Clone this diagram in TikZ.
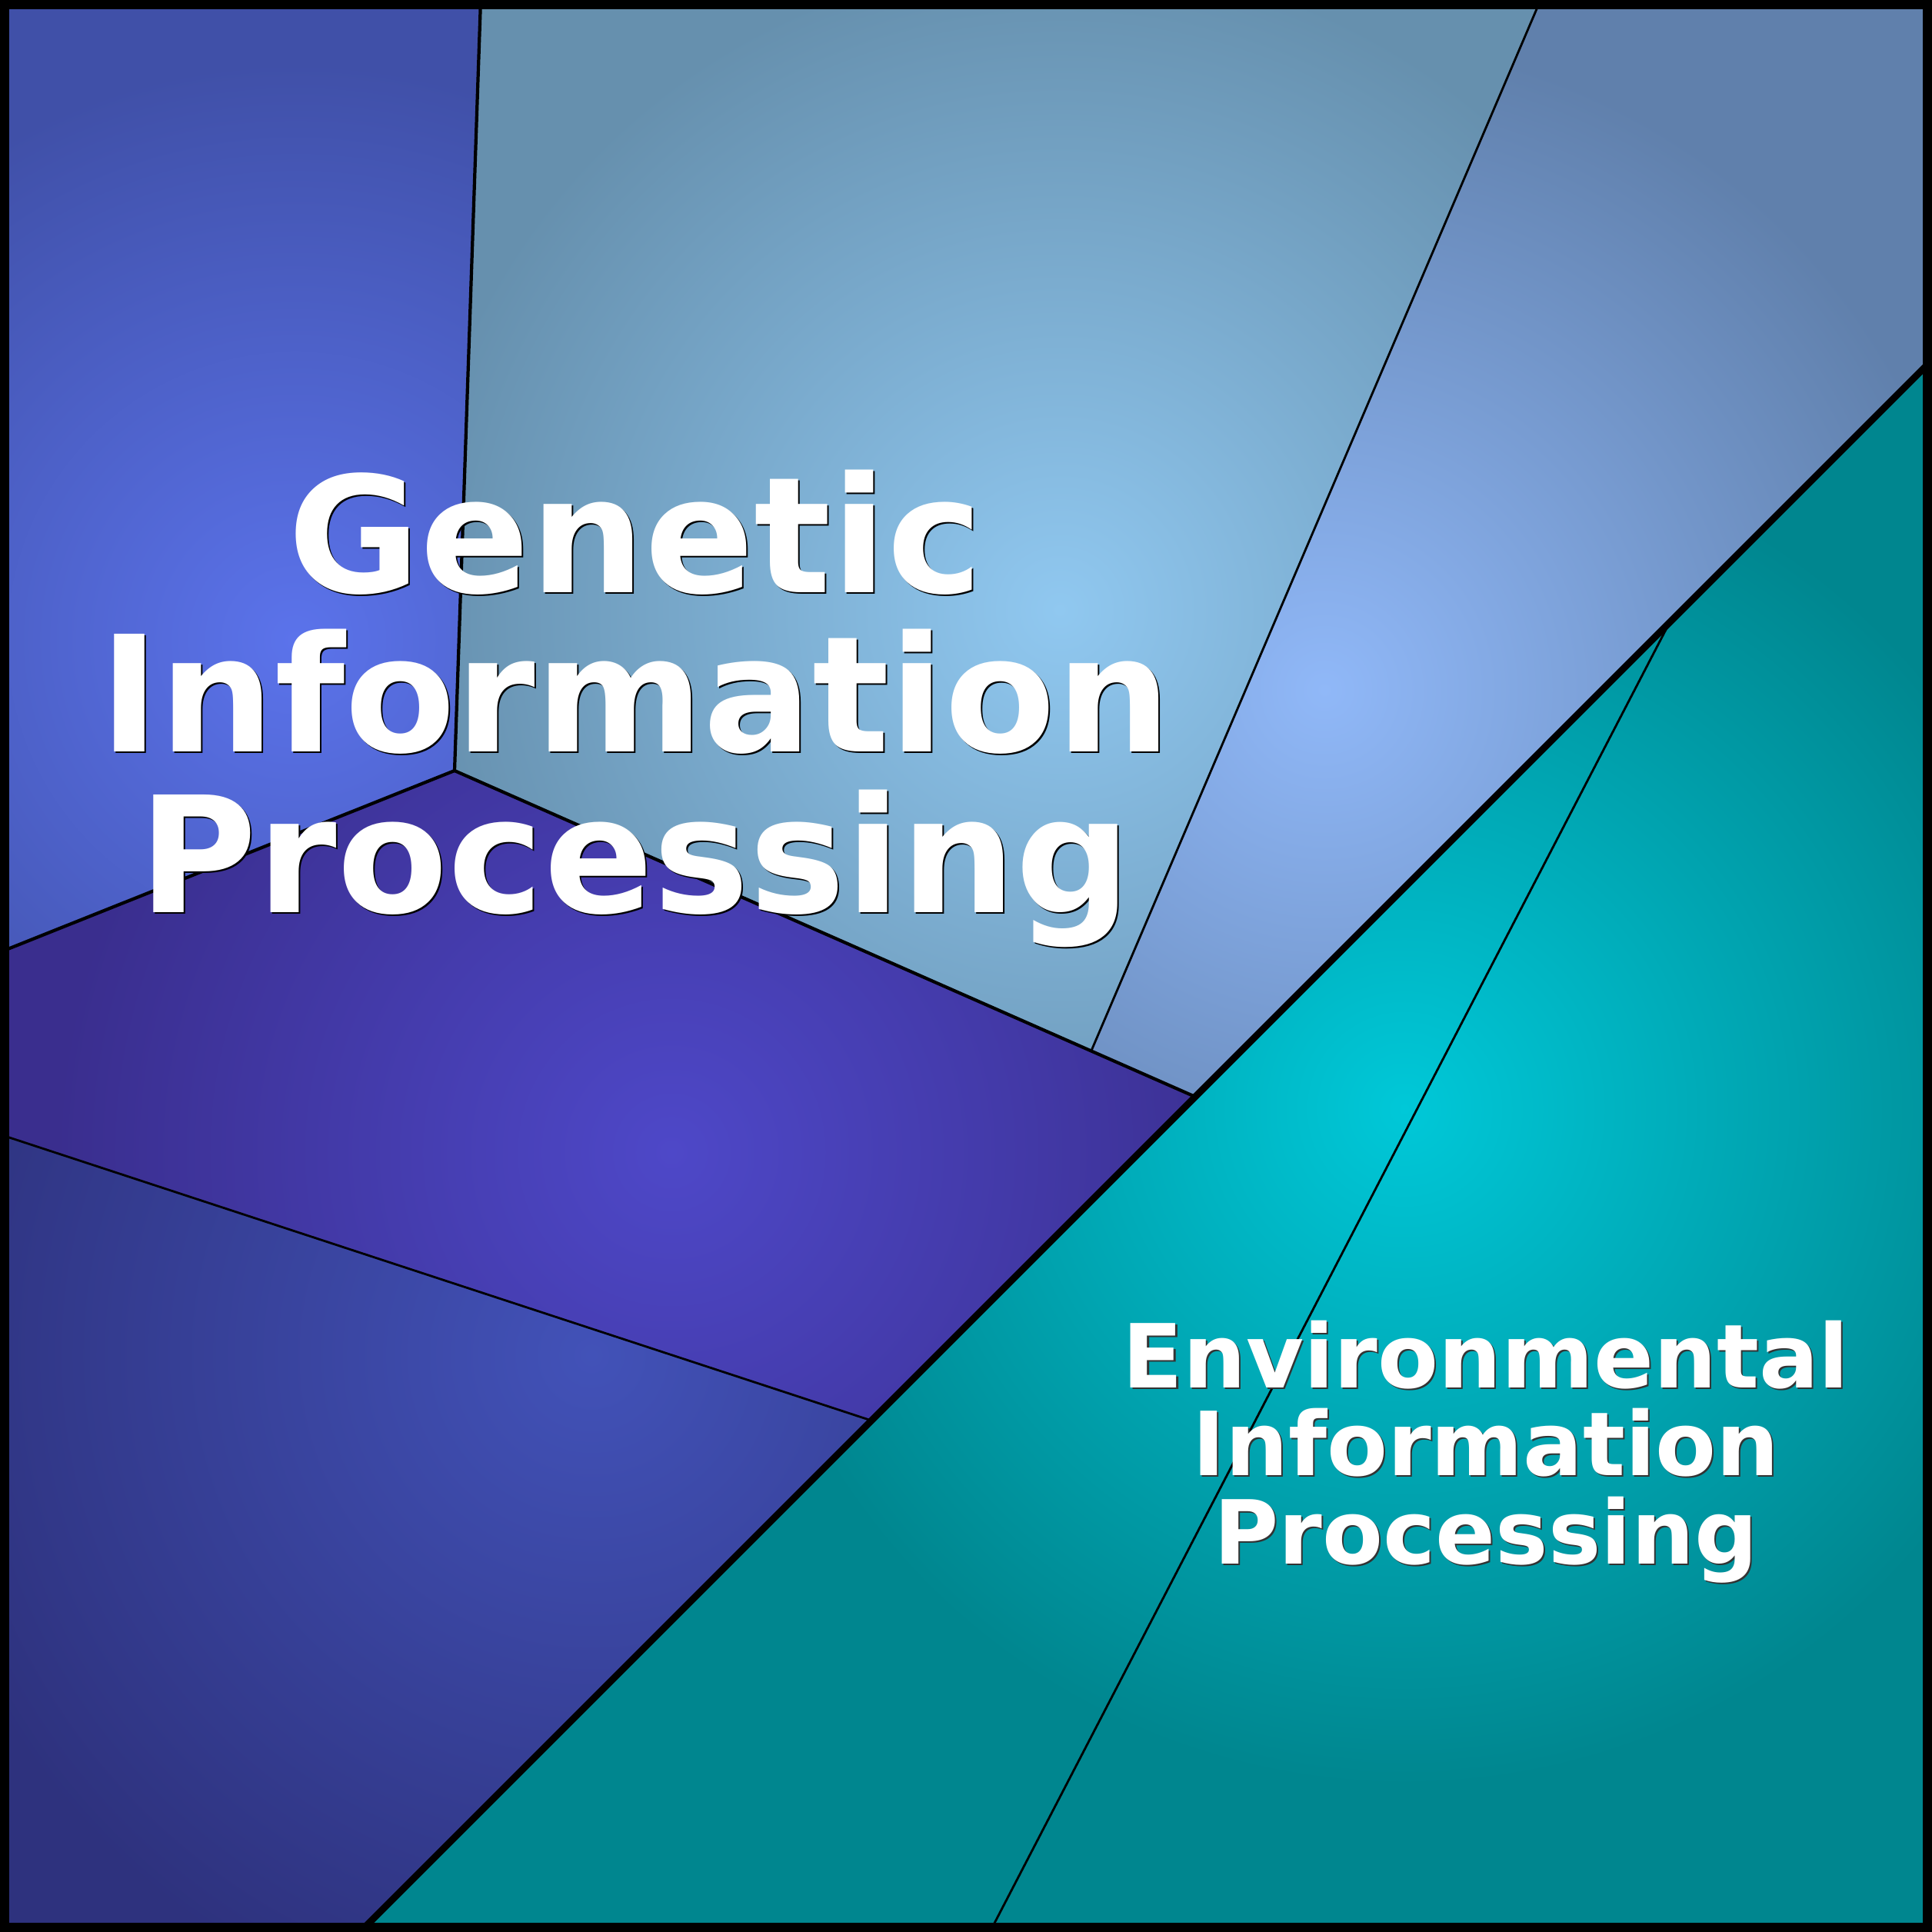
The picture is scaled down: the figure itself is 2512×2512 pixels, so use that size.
\documentclass[tikz,border=0pt]{standalone}
\usepackage{fontspec}
\setmainfont{DejaVu Sans}
\definecolor{aIn}{HTML}{5B73EB}
\definecolor{aOut}{HTML}{4050A8}
\definecolor{bIn}{HTML}{90C8F0}
\definecolor{bOut}{HTML}{6690AE}
\definecolor{cIn}{HTML}{90B8F8}
\definecolor{cOut}{HTML}{6080AC}
\definecolor{dIn}{HTML}{4E48C8}
\definecolor{dOut}{HTML}{3A2E8E}
\definecolor{eIn}{HTML}{4252B8}
\definecolor{eOut}{HTML}{2E327E}
\definecolor{fIn}{HTML}{00C8D8}
\definecolor{fOut}{HTML}{00868F}
\begin{document}
\begin{tikzpicture}[x=0.01cm,y=-0.01cm,
  thickline/.style={line width=2.5pt, line cap=round, line join=round},
  midline/.style={line width=1.2pt, line cap=round},
  thinline/.style={line width=0.8pt, line cap=round},
  bigtxt/.style={font=\fontsize{59.7}{59.7}\selectfont\bfseries, text=white, anchor=base, inner sep=0pt},
  bigsh/.style={bigtxt, text=black},
  smalltxt/.style={font=\fontsize{32.7}{32.7}\selectfont\bfseries, text=white, anchor=base, inner sep=0pt},
  smallsh/.style={smalltxt, text=black!80}]
\useasboundingbox (0,0) rectangle (2512,2512);
% junction coordinates
\coordinate (tA) at (625,0);
\coordinate (tB) at (2003,0);
\coordinate (J1) at (591,1002);
\coordinate (lA) at (0,1238);
\coordinate (lB) at (0,1475);
\coordinate (J2) at (1419,1366);
\coordinate (J3) at (1554,1426);
\coordinate (J4) at (1133,1847);
\coordinate (J5) at (2171,809);
\coordinate (rA) at (2512,468);
\coordinate (bA) at (468,2512);
\coordinate (bB) at (1287,2512);
% region 1: top-left
\begin{scope}
\clip (0,0) -- (tA) -- (J1) -- (lA) -- cycle;
\fill[aOut] (0,0) rectangle (2512,2512);
\shade[inner color=aIn, outer color=aOut] (384-750,832-750) rectangle (384+750,832+750);
\end{scope}
% region 2: top-middle
\begin{scope}
\clip (tA) -- (tB) -- (J2) -- (J1) -- cycle;
\fill[bOut] (0,0) rectangle (2512,2512);
\shade[inner color=bIn, outer color=bOut] (1378-850,793-850) rectangle (1378+850,793+850);
\end{scope}
% region 3: top-right
\begin{scope}
\clip (tB) -- (2512,0) -- (rA) -- (J3) -- (J2) -- cycle;
\fill[cOut] (0,0) rectangle (2512,2512);
\shade[inner color=cIn, outer color=cOut] (1722-850,897-850) rectangle (1722+850,897+850);
\end{scope}
% region 4: purple middle
\begin{scope}
\clip (lA) -- (J1) -- (J3) -- (J4) -- (lB) -- cycle;
\fill[dOut] (0,0) rectangle (2512,2512);
\shade[inner color=dIn, outer color=dOut] (873-800,1498-800) rectangle (873+800,1498+800);
\end{scope}
% region 5: bottom-left
\begin{scope}
\clip (lB) -- (J4) -- (bA) -- (0,2512) -- cycle;
\fill[eOut] (0,0) rectangle (2512,2512);
\shade[inner color=eIn, outer color=eOut] (769-900,1762-900) rectangle (769+900,1762+900);
\end{scope}
% regions 6 and 7: teal
\begin{scope}
\clip (rA) -- (2512,2512) -- (bA) -- cycle;
\fill[fOut] (0,0) rectangle (2512,2512);
\shade[inner color=fIn, outer color=fOut] (1826-880,1442-880) rectangle (1826+880,1442+880);
\end{scope}
% lines
\draw[midline] (tA) -- (J1);
\draw[midline] (J1) -- (lA);
\draw[midline] (J1) -- (J3);
\draw[thinline] (J2) -- (tB);
\draw[thinline] (lB) -- (J4);
\draw[thinline] (J5) -- (bB);
\draw[thickline] (rA) -- (bA);
% border
\draw[line width=6.8pt] (0,0) rectangle (2512,2512);
% texts
\node[bigsh] (g1s) at (826+2,770+2) {Genetic};
\node[bigsh] (g2s) at (826+2,977+2) {Information};
\node[bigsh] (g3s) at (826+2,1186+2) {Processing};
\node[bigtxt] (g1) at (826,770) {Genetic};
\node[bigtxt] (g2) at (826,977) {Information};
\node[bigtxt] (g3) at (826,1186) {Processing};
\node[smallsh] (e1s) at (1932+2,1804+2) {Environmental};
\node[smallsh] (e2s) at (1932+2,1918+2) {Information};
\node[smallsh] (e3s) at (1932+2,2033+2) {Processing};
\node[smalltxt] (e1) at (1932,1804) {Environmental};
\node[smalltxt] (e2) at (1932,1918) {Information};
\node[smalltxt] (e3) at (1932,2033) {Processing};
\end{tikzpicture}
\end{document}
